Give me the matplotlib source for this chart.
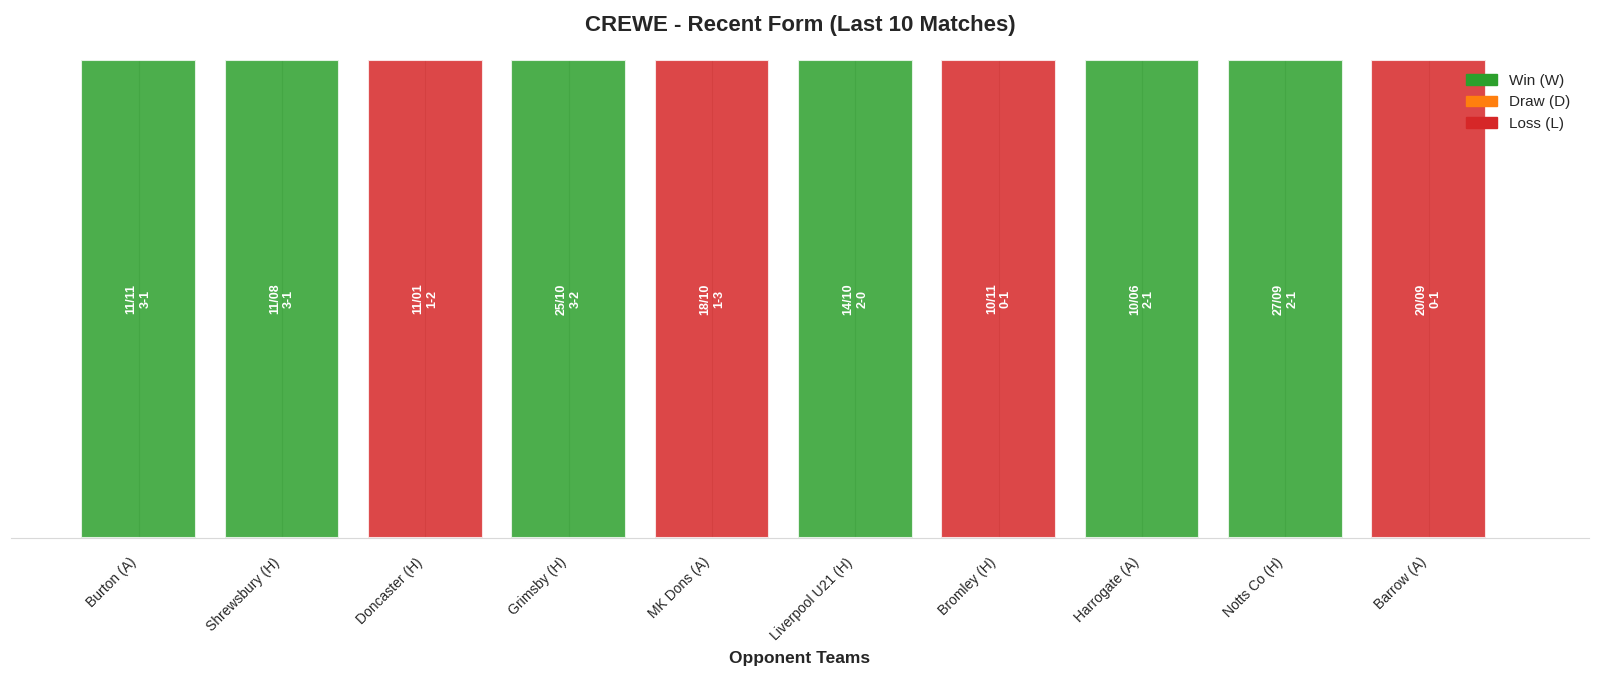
import matplotlib
matplotlib.use("Agg")
import matplotlib.pyplot as plt
import seaborn as sns
from matplotlib.patches import Patch

sns.set_style("whitegrid")
plt.rcParams['font.family'] = ['Liberation Sans', 'DejaVu Sans']

opponents = ["Burton (A)", "Shrewsbury (H)", "Doncaster (H)", "Grimsby (H)", "MK Dons (A)",
             "Liverpool U21 (H)", "Bromley (H)", "Harrogate (A)", "Notts Co (H)", "Barrow (A)"]
dates = ["11/11", "11/08", "11/01", "25/10", "18/10", "14/10", "10/11", "10/06", "27/09", "20/09"]
scores = ["3-1", "3-1", "1-2", "3-2", "1-3", "2-0", "0-1", "2-1", "2-1", "0-1"]
results = ["W", "W", "L", "W", "L", "W", "L", "W", "W", "L"]
heights = [1] * 10

color_map = {"W": "#2ca02c", "D": "#ff7f0e", "L": "#d62728"}

fig = plt.figure(figsize=(16, 6.79), dpi=100)
ax = fig.add_axes([0.007, 0.2077, 0.986, 0.704])

x = list(range(len(opponents)))
ax.bar(x, heights, width=0.8, color=[color_map[r] for r in results], alpha=0.85,
       edgecolor="white", linewidth=1.5)

for i in x:
    ax.text(i, 0.5, f"{dates[i]}\n{scores[i]}", rotation=90, ha="center", va="center",
            color="white", fontweight="bold", fontsize=9)

ax.set_xlim(-0.889, 10.116)
ax.set_ylim(0, 1.0)
ax.set_xticks(x)
ax.set_xticklabels(opponents, rotation=45, ha="right", fontsize=10)
ax.set_yticks([])
ax.grid(axis="y", visible=False)
ax.grid(axis="x", color="0.8", linewidth=0.8)
ax.set_axisbelow(True)
for s in ["left", "top", "right"]:
    ax.spines[s].set_visible(False)
ax.spines["bottom"].set_color("0.85")
ax.tick_params(axis="x", length=0, pad=12.5)

ax.set_xlabel("Opponent Teams", fontsize=12.5, fontweight="bold", labelpad=6)
ax.set_title("CREWE - Recent Form (Last 10 Matches)", fontsize=16, fontweight="bold", pad=21)

handles = [Patch(color=color_map["W"], label="Win (W)"),
           Patch(color=color_map["D"], label="Draw (D)"),
           Patch(color=color_map["L"], label="Loss (L)")]
ax.legend(handles=handles, loc="upper right", frameon=False, fontsize=11,
          bbox_to_anchor=(0.997, 1.0))

fig.savefig("out.png", dpi=100)
